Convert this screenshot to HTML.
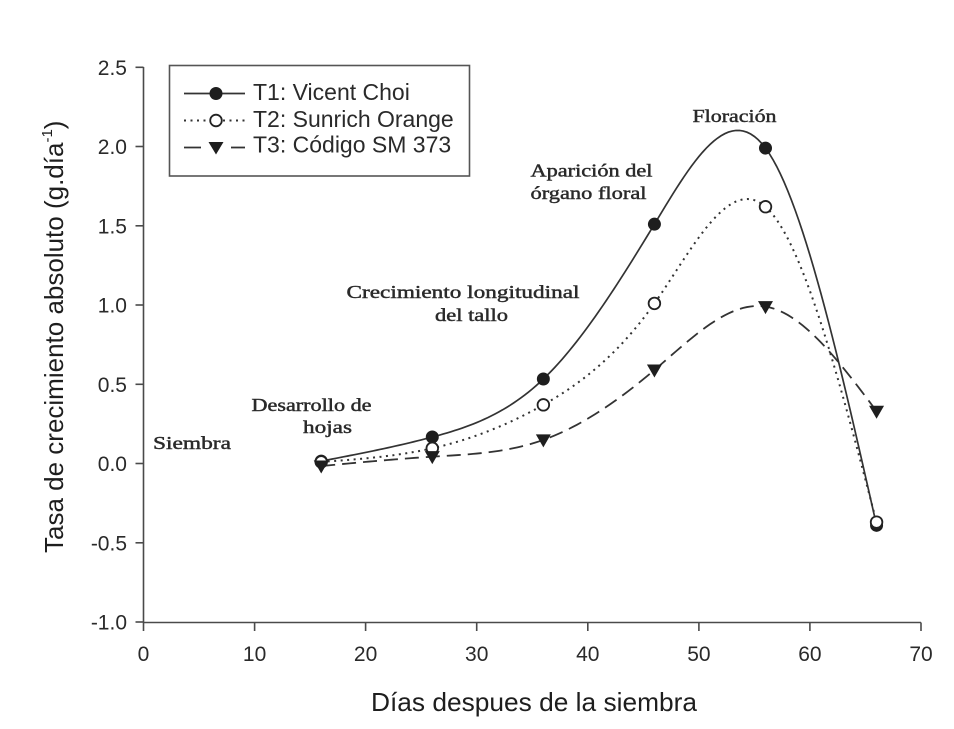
<!DOCTYPE html>
<html>
<head>
<meta charset="utf-8">
<style>
  html,body{margin:0;padding:0;background:#fff;}
  svg{display:block;}
  .tick{font-family:"Liberation Sans",Arial,sans-serif;font-size:21px;fill:#2a2a2a;}
  .leg{font-family:"Liberation Sans",Arial,sans-serif;font-size:23px;fill:#2a2a2a;}
  .ann{font-family:"Liberation Serif","DejaVu Serif",serif;font-size:18px;fill:#2a2a2a;stroke:#2a2a2a;stroke-width:0.45px;}
  .ttl{font-family:"Liberation Sans",Arial,sans-serif;font-size:26px;fill:#1e1e1e;}
</style>
</head>
<body>
<svg id="chart" width="954" height="729" viewBox="0 0 954 729" xmlns="http://www.w3.org/2000/svg">
  <rect x="0" y="0" width="954" height="729" fill="#fff"/>

  <!-- axes -->
  <g stroke="#4a4a4a" stroke-width="1.6" fill="none">
    <line x1="143.5" y1="67" x2="143.5" y2="622.5"/>
    <line x1="143.5" y1="622.5" x2="921" y2="622.5"/>
    <line x1="135.5" y1="67.3" x2="143.5" y2="67.3"/>
    <line x1="135.5" y1="146.5" x2="143.5" y2="146.5"/>
    <line x1="135.5" y1="225.8" x2="143.5" y2="225.8"/>
    <line x1="135.5" y1="305" x2="143.5" y2="305"/>
    <line x1="135.5" y1="384.3" x2="143.5" y2="384.3"/>
    <line x1="135.5" y1="463.5" x2="143.5" y2="463.5"/>
    <line x1="135.5" y1="542.8" x2="143.5" y2="542.8"/>
    <line x1="135.5" y1="622" x2="143.5" y2="622"/>
    <line x1="143.5" y1="622.5" x2="143.5" y2="631"/>
    <line x1="254.6" y1="622.5" x2="254.6" y2="631"/>
    <line x1="365.6" y1="622.5" x2="365.6" y2="631"/>
    <line x1="476.7" y1="622.5" x2="476.7" y2="631"/>
    <line x1="587.8" y1="622.5" x2="587.8" y2="631"/>
    <line x1="698.9" y1="622.5" x2="698.9" y2="631"/>
    <line x1="809.9" y1="622.5" x2="809.9" y2="631"/>
    <line x1="921" y1="622.5" x2="921" y2="631"/>
  </g>

  <g class="tick" text-anchor="end">
    <text x="127" y="75">2.5</text>
    <text x="127" y="154">2.0</text>
    <text x="127" y="233.3">1.5</text>
    <text x="127" y="312.5">1.0</text>
    <text x="127" y="391.8">0.5</text>
    <text x="127" y="471">0.0</text>
    <text x="127" y="550.3">-0.5</text>
    <text x="127" y="629.5">-1.0</text>
  </g>
  <g class="tick" text-anchor="middle">
    <text x="143.5" y="661">0</text>
    <text x="254.6" y="661">10</text>
    <text x="365.6" y="661">20</text>
    <text x="476.7" y="661">30</text>
    <text x="587.8" y="661">40</text>
    <text x="698.9" y="661">50</text>
    <text x="809.9" y="661">60</text>
    <text x="921" y="661">70</text>
  </g>

  <text class="ttl" x="371" y="711" textLength="326" lengthAdjust="spacingAndGlyphs">Días despues de la siembra</text>
  <text class="ttl" transform="translate(63,553) rotate(-90)" x="0" y="0">Tasa de crecimiento absoluto (g.día<tspan font-size="15" dy="-11">-1</tspan><tspan dy="11">)</tspan></text>

  <g class="ann">
    <text x="153" y="449" textLength="78" lengthAdjust="spacingAndGlyphs">Siembra</text>
    <text x="251.5" y="411" textLength="120" lengthAdjust="spacingAndGlyphs">Desarrollo de</text>
    <text x="303" y="433" textLength="49" lengthAdjust="spacingAndGlyphs">hojas</text>
    <text x="346.5" y="298" textLength="233" lengthAdjust="spacingAndGlyphs">Crecimiento longitudinal</text>
    <text x="435" y="321" textLength="73" lengthAdjust="spacingAndGlyphs">del tallo</text>
    <text x="530.5" y="176.5" textLength="122" lengthAdjust="spacingAndGlyphs">Aparición del</text>
    <text x="530.5" y="199" textLength="116" lengthAdjust="spacingAndGlyphs">órgano floral</text>
    <text x="692.5" y="122" textLength="84" lengthAdjust="spacingAndGlyphs">Floración</text>
  </g>

  <path id="c1" d="" fill="none" stroke="#333" stroke-width="1.7"/>
  <path id="c2" d="" fill="none" stroke="#333" stroke-width="2" stroke-dasharray="2 4.5"/>
  <path id="c3" d="" fill="none" stroke="#333" stroke-width="1.8" stroke-dasharray="14 7"/>
  <g id="markers"></g>

  <rect x="169.5" y="65.5" width="300" height="110.5" fill="#fff" stroke="#555" stroke-width="1.6"/>
  <line x1="184" y1="93.5" x2="245" y2="93.5" stroke="#333" stroke-width="1.8"/>
  <circle cx="216" cy="93.5" r="6.5" fill="#1e1e1e"/>
  <line x1="184" y1="120.5" x2="245" y2="120.5" stroke="#333" stroke-width="2" stroke-dasharray="2 4.5"/>
  <circle cx="216" cy="120.5" r="5.8" fill="#fff" stroke="#222" stroke-width="1.8"/>
  <line x1="184" y1="147.5" x2="201" y2="147.5" stroke="#333" stroke-width="1.8"/>
  <line x1="231" y1="147.5" x2="245" y2="147.5" stroke="#333" stroke-width="1.8"/>
  <polygon points="208.5,142 223.5,142 216,154.5" fill="#1e1e1e"/>
  <text class="leg" x="253" y="100">T1: Vicent Choi</text>
  <text class="leg" x="253" y="127">T2: Sunrich Orange</text>
  <text class="leg" x="253" y="152.5">T3: Código SM 373</text>
</svg>

<script>
(function(){
  var xs=[16,26,36,46,56,66];
  var T1=[0.015,0.167,0.533,1.51,1.99,-0.39];
  var T2=[0.01,0.096,0.37,1.01,1.62,-0.37];
  var T3=[-0.016,0.043,0.149,0.59,0.99,0.33];
  function px(d){return 143.5+d*11.107;}
  function py(v){return 463.5-158.5*v;}
  function spline(ys){
    var n=ys.length,h=10,m=n-2,i;
    var rhs=[],cp=[],dp=[],M=new Array(n).fill(0);
    for(i=1;i<=m;i++) rhs.push(6/(h*h)*(ys[i+1]-2*ys[i]+ys[i-1]));
    cp[0]=1/4; dp[0]=rhs[0]/4;
    for(i=1;i<m;i++){
      var den=4-cp[i-1];
      cp[i]=1/den;
      dp[i]=(rhs[i]-dp[i-1])/den;
    }
    var sol=new Array(m);
    sol[m-1]=dp[m-1];
    for(i=m-2;i>=0;i--) sol[i]=dp[i]-cp[i]*sol[i+1];
    for(i=1;i<=m;i++) M[i]=sol[i-1];
    var pts=[];
    for(i=0;i<n-1;i++){
      var steps=30;
      for(var k=(i===0?0:1);k<=steps;k++){
        var x=xs[i]+h*k/steps;
        var A=(xs[i+1]-x)/h,B=(x-xs[i])/h;
        var y=A*ys[i]+B*ys[i+1]+((A*A*A-A)*M[i]+(B*B*B-B)*M[i+1])*h*h/6;
        pts.push(px(x).toFixed(2)+","+py(y).toFixed(2));
      }
    }
    return "M"+pts.join(" L");
  }
  document.getElementById("c1").setAttribute("d",spline(T1));
  document.getElementById("c2").setAttribute("d",spline(T2));
  document.getElementById("c3").setAttribute("d",spline(T3));
  var g=document.getElementById("markers"),ns="http://www.w3.org/2000/svg",i,e;
  for(i=0;i<6;i++){
    e=document.createElementNS(ns,"circle");
    e.setAttribute("cx",px(xs[i]));e.setAttribute("cy",py(T1[i]));
    e.setAttribute("r","6.5");e.setAttribute("fill","#1e1e1e");
    g.appendChild(e);
  }
  for(i=0;i<6;i++){
    e=document.createElementNS(ns,"circle");
    e.setAttribute("cx",px(xs[i]));e.setAttribute("cy",py(T2[i]));
    e.setAttribute("r","5.8");e.setAttribute("fill","#fff");
    e.setAttribute("stroke","#222");e.setAttribute("stroke-width","1.8");
    g.appendChild(e);
  }
  for(i=0;i<6;i++){
    var cx=px(xs[i]),cy=py(T3[i]);
    e=document.createElementNS(ns,"polygon");
    e.setAttribute("points",(cx-7.5)+","+(cy-5.5)+" "+(cx+7.5)+","+(cy-5.5)+" "+cx+","+(cy+7.5));
    e.setAttribute("fill","#1e1e1e");
    g.appendChild(e);
  }
})();
</script>
</body>
</html>
